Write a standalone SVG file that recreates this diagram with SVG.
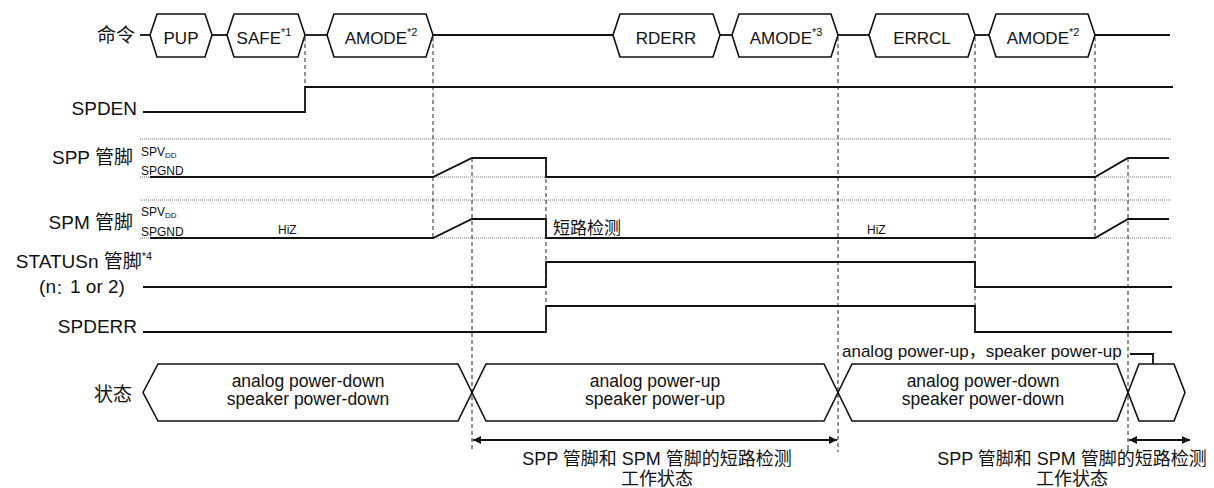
<svg xmlns="http://www.w3.org/2000/svg" width="1214" height="488" viewBox="0 0 1214 488">
<style>
text{font-family:"Liberation Sans","Noto Sans CJK SC",sans-serif;fill:#111;font-size:17px}
.cjk{font-family:"Noto Sans CJK SC","Liberation Sans",sans-serif}
.lbl{font-size:19px}
.st{font-size:17.5px}
.nt{font-size:18px;font-family:"Liberation Sans","Noto Sans CJK SC",sans-serif}
.sm{font-size:12px}
.sup{font-size:11px}
.sub{font-size:8px}
.hex{fill:#fff;stroke:#111;stroke-width:1.6;stroke-linejoin:miter}
.sig{fill:none;stroke:#111;stroke-width:1.8}
.dot{fill:none;stroke:#777;stroke-width:1;stroke-dasharray:1 1}
.dash{fill:none;stroke:#222;stroke-width:1;stroke-dasharray:4 3}
.arr{fill:none;stroke:#111;stroke-width:1.8;marker-start:url(#ah);marker-end:url(#ah)}
</style>
<defs>
<marker id="ah" viewBox="0 0 10 10" refX="10" refY="5" markerWidth="10" markerHeight="8" markerUnits="userSpaceOnUse" orient="auto-start-reverse">
<path d="M0,0 L10,5 L0,10 z" fill="#111"/>
</marker>
</defs>

<g id="labels">
<text class="lbl cjk" x="135" y="42" text-anchor="end">命令</text>
<text class="lbl" x="137" y="115" text-anchor="end">SPDEN</text>
<text class="lbl" x="133" y="164" text-anchor="end">SPP <tspan class="cjk">管脚</tspan></text>
<text class="lbl" x="133" y="229" text-anchor="end">SPM <tspan class="cjk">管脚</tspan></text>
<text class="lbl" x="84" y="268" text-anchor="middle">STATUSn <tspan class="cjk">管脚</tspan><tspan class="sup" dy="-8">*4</tspan></text>
<text class="lbl" x="82" y="293" text-anchor="middle" font-size="18">(n<tspan class="cjk" font-size="14">：</tspan>1 or 2)</text>
<text class="lbl" x="137" y="333" text-anchor="end">SPDERR</text>
<text class="lbl cjk" x="132" y="401" text-anchor="end">状态</text>
</g>

<g id="grid">
<line class="dot" x1="140" y1="139" x2="1172" y2="139"/>
<line class="dot" x1="140" y1="177" x2="1172" y2="177"/>
<line class="dot" x1="140" y1="200" x2="1172" y2="200"/>
<line class="dot" x1="140" y1="238" x2="1172" y2="238"/>
<text class="sm" x="141" y="156">SPV<tspan class="sub" dy="2">DD</tspan></text>
<text class="sm" x="141" y="175">SPGND</text>
<text class="sm" x="141" y="216">SPV<tspan class="sub" dy="2">DD</tspan></text>
<text class="sm" x="141" y="236">SPGND</text>
</g>

<g id="connectors">
<line class="dash" x1="305" y1="37" x2="305" y2="87"/>
<line class="dash" x1="433" y1="37" x2="433" y2="240"/>
<line class="dash" x1="472" y1="158" x2="472" y2="452"/>
<line class="dash" x1="546" y1="158" x2="546" y2="306"/>
<line class="dash" x1="838" y1="37" x2="838" y2="452"/>
<line class="dash" x1="975" y1="37" x2="975" y2="306"/>
<line class="dash" x1="1095" y1="37" x2="1095" y2="240"/>
<line class="dash" x1="1128" y1="158" x2="1128" y2="450"/>
<polyline class="sig" points="140,35 150,35"/>
<polyline class="sig" points="212,35 227,35"/>
<polyline class="sig" points="305,35 327,35"/>
<polyline class="sig" points="433,35 613,35"/>
<polyline class="sig" points="720,35 732,35"/>
<polyline class="sig" points="838,35 869,35"/>
<polyline class="sig" points="975,35 989,35"/>
<polyline class="sig" points="1095,35 1170,35"/>
<polyline class="sig" points="143,112 305,112 305,87 1173,87"/>
<polyline class="sig" points="150,177 433,177 472,158 546,158 546,177 1095,177 1128,158 1169,158"/>
<polyline class="sig" points="150,238 433,238 472,219 546,219 546,238 1095,238 1128,219 1169,219"/>
<polyline class="sig" points="143,287 546,287 546,262 975,262 975,287 1172,287"/>
<polyline class="sig" points="143,332 546,332 546,306 975,306 975,332 1172,332"/>
<line class="arr" x1="473" y1="440" x2="837" y2="440"/>
<line class="arr" x1="1129" y1="440" x2="1190" y2="440"/>
<polyline class="sig" stroke-width="1.5" points="1130,354 1153,354 1153,375"/>
</g>

<g id="cmd-pup">
<polygon class="hex" points="150,35 157,14 205,14 212,35 205,57 157,57"/>
<text x="181" y="44" text-anchor="middle">PUP</text>
</g>
<g id="cmd-safe">
<polygon class="hex" points="227,35 234,14 298,14 305,35 298,57 234,57"/>
<text x="264" y="44" text-anchor="middle">SAFE<tspan class="sup" dy="-8">*1</tspan></text>
</g>
<g id="cmd-amode1">
<polygon class="hex" points="327,35 334,14 426,14 433,35 426,57 334,57"/>
<text x="381" y="44" text-anchor="middle">AMODE<tspan class="sup" dy="-8">*2</tspan></text>
</g>
<g id="cmd-rderr">
<polygon class="hex" points="613,35 620,14 713,14 720,35 713,57 620,57"/>
<text x="666" y="44" text-anchor="middle">RDERR</text>
</g>
<g id="cmd-amode3">
<polygon class="hex" points="732,35 739,14 831,14 838,35 831,57 739,57"/>
<text x="786" y="44" text-anchor="middle">AMODE<tspan class="sup" dy="-8">*3</tspan></text>
</g>
<g id="cmd-errcl">
<polygon class="hex" points="869,35 876,14 968,14 975,35 968,57 876,57"/>
<text x="922" y="44" text-anchor="middle">ERRCL</text>
</g>
<g id="cmd-amode2">
<polygon class="hex" points="989,35 996,14 1088,14 1095,35 1088,57 996,57"/>
<text x="1043" y="44" text-anchor="middle">AMODE<tspan class="sup" dy="-8">*2</tspan></text>
</g>

<g id="sig-texts">
<text class="sm" x="278" y="234">HiZ</text>
<text class="cjk" x="553" y="234">短路检测</text>
<text class="sm" x="867" y="234">HiZ</text>
</g>

<g id="state1">
<polygon class="hex" points="143,392.5 158,364 458,364 472,392.5 458,421 158,421"/>
<text class="st" x="308" y="387" text-anchor="middle">analog power-down</text>
<text class="st" x="308" y="405" text-anchor="middle">speaker power-down</text>
</g>
<g id="state2">
<polygon class="hex" points="472,392.5 486,364 824,364 838,392.5 824,421 486,421"/>
<text class="st" x="655" y="387" text-anchor="middle">analog power-up</text>
<text class="st" x="655" y="405" text-anchor="middle">speaker power-up</text>
</g>
<g id="state3">
<polygon class="hex" points="838,392.5 852,364 1117,364 1128,392.5 1117,421 852,421"/>
<text class="st" x="983" y="387" text-anchor="middle">analog power-down</text>
<text class="st" x="983" y="405" text-anchor="middle">speaker power-down</text>
</g>
<g id="state4">
<polygon class="hex" points="1128,392.5 1139,364 1174,364 1185,392.5 1174,421 1139,421"/>
</g>
<g id="callout">
<text x="842" y="357">analog power-up，speaker power-up</text>
</g>

<g id="notes">
<text class="nt" x="657" y="465" text-anchor="middle">SPP 管脚和 SPM 管脚的短路检测</text>
<text class="nt" x="657" y="485" text-anchor="middle">工作状态</text>
<text class="nt" x="1072" y="465" text-anchor="middle">SPP 管脚和 SPM 管脚的短路检测</text>
<text class="nt" x="1072" y="485" text-anchor="middle">工作状态</text>
</g>
</svg>
